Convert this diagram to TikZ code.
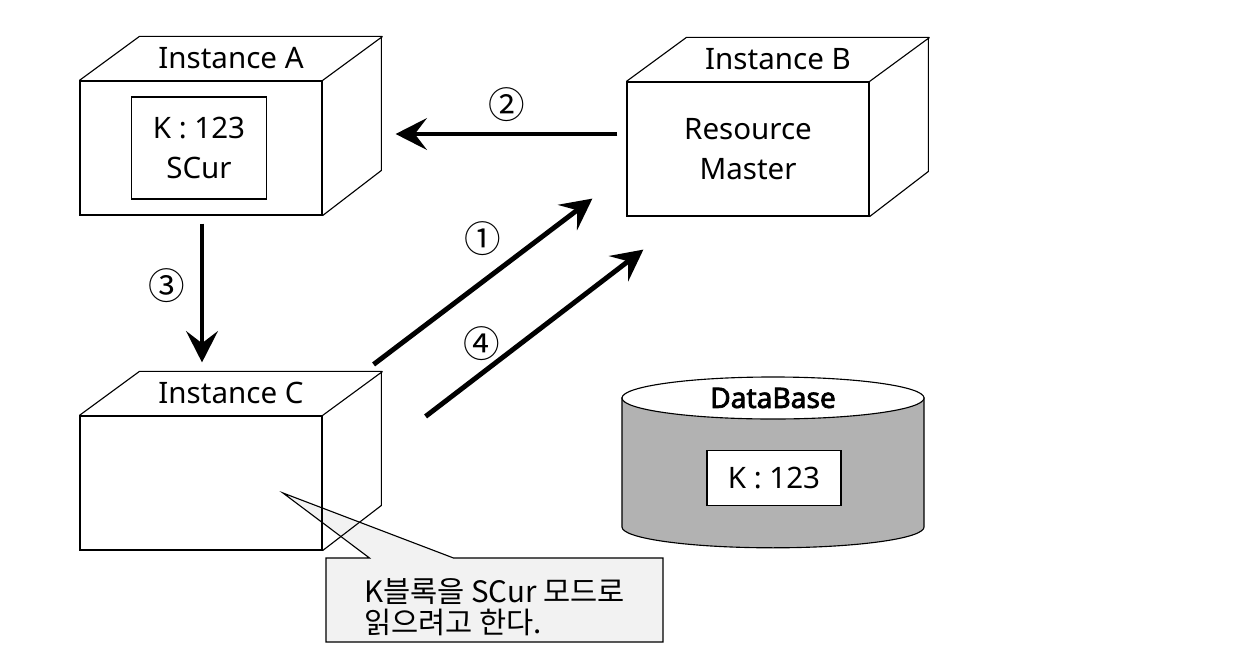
\documentclass[tikz,border=0pt]{standalone}
\usepackage{fontspec}
\setmainfont{Noto Sans}
\newfontfamily\cjk{Noto Sans CJK KR}
\newfontfamily\dbfont{Noto Sans}[FakeBold=2.5]
\usepackage{tikz}
\usetikzlibrary{arrows.meta,positioning,shapes.callouts,backgrounds}
\tikzset{
    %Define standard arrow tip
    >={Stealth[length=7.8mm,width=7.9mm,inset=3mm]},
    %Define style for the front of a cube
    front/.style={
           rectangle,
           draw=black, line width=0.8pt,
           minimum width=6.05cm,
           minimum height=3.35cm,
           inner sep=0pt,
           font=\fontsize{21}{28}\selectfont,
           align=center},
    %Define style for top and side faces
    face/.style={
           draw=black, line width=0.8pt},
    %Define style for data blocks
    blk/.style={
           rectangle,
           draw=black, line width=0.8pt,
           fill=white,
           font=\fontsize{21}{28}\selectfont,
           align=center},
    title/.style={
           font=\fontsize{21}{25}\selectfont},
    num/.style={
           font=\cjk\fontsize{26}{30}\selectfont,
           inner sep=0pt},
    memo/.style={
           rectangle callout,
           draw=black, line width=0.8pt,
           fill=black!5,
           minimum width=8.425cm,
           minimum height=2.1cm,
           callout pointer width=2.1cm,
           font=\cjk\fontsize{21}{22}\selectfont,
           align=left},
    % Define arrow style
    flow/.style={
           ->,
           line width=3.5pt}
}
\begin{document}
\begin{tikzpicture}[x=0.025cm,y=-0.025cm]
\useasboundingbox (0,0) rectangle (1246,670);
 %instances
\node[front](A) at (201,148){};
\node[front](B) at (748,149){Resource\\Master};
\node[front](C) at (201,483){};
\node[blk, minimum width=3.375cm, minimum height=2.55cm](Ak) at ([xshift=-0.05cm]A.center){K : 123\\SCur};
\draw[face] (A.north west) -- ++(60,-44) -- ++(242,0) -- ++(0,134) -- (A.south east) (A.north east) -- ++(60,-44);
\draw[face] (B.north west) -- ++(60,-44) -- ++(242,0) -- ++(0,134) -- (B.south east) (B.north east) -- ++(60,-44);
\draw[face] (C.north west) -- ++(60,-44) -- ++(242,0) -- ++(0,134) -- (C.south east) (C.north east) -- ++(60,-44);
\node[title](At) at ([shift={(30,-22)}]A.north){Instance A};
\node[title](Bt) at ([shift={(30,-22)}]B.north){Instance B};
\node[title](Ct) at ([shift={(30,-22)}]C.north){Instance C};
 %database
\coordinate (dbtop) at (773,398);
\coordinate (dbbot) at (773,527);
\path[fill=black!30, draw=black, line width=0.8pt]
    ([xshift=-3.775cm]dbtop) -- ([xshift=-3.775cm]dbbot)
    arc[start angle=180, end angle=360, x radius=3.775cm, y radius=0.52cm]
    -- ([xshift=3.775cm]dbtop) -- cycle;
\draw[face, fill=white] (dbtop) ellipse[x radius=3.775cm, y radius=0.525cm];
\node[title, font=\dbfont\fontsize{20}{24}\selectfont](db) at (dbtop){DataBase};
\node[blk, minimum width=3.35cm, minimum height=1.375cm](dbk) at (774,478){K : 123};
 %note
\coordinate (ptr) at ([shift={(82,10)}]C.center);
\begin{scope}[on background layer]
\node[memo, callout absolute pointer={(ptr)}](note) at (494.5,600){\rule{0pt}{9.5mm}K블록을 SCur 모드로\\읽으려고 한다.};
\end{scope}
 %messages
\draw[flow] ([shift={(51,-51)}]C.north east) -- ([shift={(-34,-18)}]B.south west) node[num, midway, above=0.58cm]{①};
\draw[flow] ([shift={(-9,-15)}]B.west) -- ([shift={(73,-14)}]A.east) node[num, midway, above=0.25cm]{②};
\draw[flow] ([shift={(1,8)}]A.south) -- ([shift={(1,-53)}]C.north) node[num, pos=0.45, left=0.37cm]{③};
\draw[flow] ([shift={(103,1)}]C.north east) -- ([shift={(17,33)}]B.south west) node[num, pos=0.26, above=0.26cm]{④};
\end{tikzpicture}
\end{document}
